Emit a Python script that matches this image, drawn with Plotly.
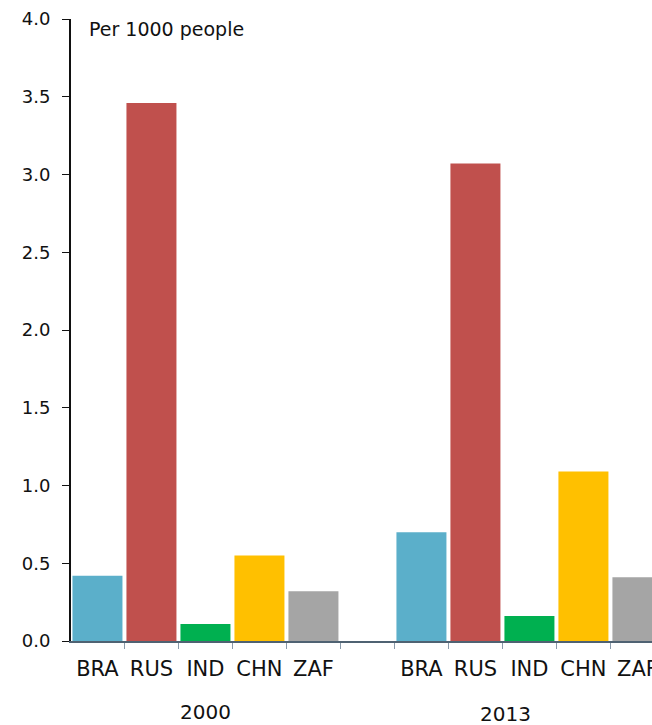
import plotly.graph_objects as go

countries = ["BRA", "RUS", "IND", "CHN", "ZAF"]
years = ["2000", "2013"]
values_2000 = [0.42, 3.46, 0.11, 0.55, 0.32]
values_2013 = [0.70, 3.07, 0.16, 1.09, 0.41]
colors = ["#5BAFCA", "#C0504D", "#00B050", "#FFC000", "#A5A5A5"]
y_ticks = [0.0, 0.5, 1.0, 1.5, 2.0, 2.5, 3.0, 3.5, 4.0]

# slot positions: group 1 at 0..4, empty slot 5, group 2 at 6..10
x_pos = list(range(0, 5)) + list(range(6, 11))
y_vals = values_2000 + values_2013
bar_colors = colors + colors
labels = countries + countries
boundaries = [i - 0.5 for i in range(0, 11)]

font_family = "DejaVu Sans"

fig = go.Figure()
fig.add_trace(go.Bar(
    x=x_pos, y=y_vals, marker=dict(color=bar_colors, line=dict(width=0)),
    showlegend=False, hoverinfo="y",
))

fig.update_layout(
    width=652, height=725,
    margin=dict(l=71, r=0, t=19, b=84),
    paper_bgcolor="white", plot_bgcolor="white",
    bargap=0.074,
    font=dict(family=font_family, color="#222222"),
    xaxis=dict(
        range=[-0.49, 10.27], automargin=False,
        tickmode="array", tickvals=x_pos, ticktext=labels,
        ticks="", showgrid=False, zeroline=False,
        showline=True, linecolor="#4F6272", linewidth=2,
        tickfont=dict(size=21, color="#111111"),
        ticklabeloverflow="allow", ticklabelstandoff=8,
        minor=dict(tickvals=boundaries, ticks="outside", ticklen=6,
                   tickcolor="#8A9AAA", tickwidth=1, showgrid=False),
    ),
    yaxis=dict(
        range=[0, 4.0], automargin=False,
        tickmode="array", tickvals=y_ticks,
        ticktext=[f"{v:.1f}" for v in y_ticks],
        ticks="outside", ticklen=7, tickcolor="#111111", tickwidth=1,
        showgrid=False, zeroline=False,
        showline=True, linecolor="#111111", linewidth=2,
        tickfont=dict(size=18, color="#111111"),
        ticklabelstandoff=8,
    ),
    annotations=[
        dict(text="Per 1000 people", xref="paper", yref="paper",
             x=0.027, y=0.984, xanchor="left", yanchor="middle",
             showarrow=False, font=dict(size=19, color="#111111")),
        dict(text=years[0], xref="x", yref="paper", x=2, y=-0.114,
             xanchor="center", yanchor="middle", showarrow=False,
             font=dict(size=20, color="#111111")),
        dict(text=years[1], xref="x", yref="paper", x=7.55, y=-0.117,
             xanchor="center", yanchor="middle", showarrow=False,
             font=dict(size=20, color="#111111")),
    ],
)

fig.write_html("out.html",
               config={"displayModeBar": False},
               post_script="document.body.style.margin='0';document.body.style.overflow='hidden';")
